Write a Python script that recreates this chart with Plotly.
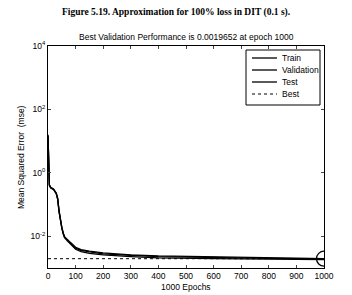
import plotly.graph_objects as go

epochs = [0, 2, 5, 10, 20, 30, 35, 40, 45, 50, 55, 60, 70, 80, 90, 100, 120, 150,
          200, 250, 300, 400, 500, 600, 700, 800, 900, 950, 1000]
train = [15.0, 2.0, 0.40, 0.33, 0.30, 0.22, 0.15, 0.060, 0.030, 0.018, 0.012, 0.0090,
         0.0072, 0.0058, 0.0047, 0.0039, 0.0033, 0.0029, 0.0026, 0.0024, 0.0023,
         0.0021, 0.0020, 0.00197, 0.00193, 0.00190, 0.00187, 0.00185, 0.00183]
validation = [14.0, 2.2, 0.42, 0.35, 0.31, 0.23, 0.16, 0.064, 0.032, 0.019, 0.013, 0.0097,
              0.0079, 0.0065, 0.0053, 0.0045, 0.0038, 0.0034, 0.0030, 0.0028, 0.0026,
              0.0024, 0.0023, 0.00222, 0.00215, 0.00209, 0.00203, 0.00200, 0.0019652]
test = [16.0, 2.1, 0.41, 0.34, 0.30, 0.22, 0.15, 0.062, 0.031, 0.019, 0.0125, 0.0094,
        0.0076, 0.0062, 0.0050, 0.0042, 0.0036, 0.0032, 0.0028, 0.0026, 0.0025,
        0.0023, 0.0022, 0.00212, 0.00206, 0.00201, 0.00197, 0.00194, 0.00191]
best_epoch = 1000
best_perf = 0.0019652
series_names = ["Train", "Validation", "Test", "Best"]

x_ticks = list(range(0, 1001, 100))
y_tickvals = [1e-2, 1e0, 1e2, 1e4]
y_ticktext = ["10<sup>-2</sup>", "10<sup>0</sup>", "10<sup>2</sup>", "10<sup>4</sup>"]

FONT = "Liberation Sans, Arial, sans-serif"
W, H = 352, 295
L, R, T, B = 48, 28, 46, 27
pw, ph = W - L - R, H - T - B


def px(xpix):
    return (xpix - L) / pw


def py(ypix):
    return (H - B - ypix) / ph


fig = go.Figure()
for name, ys in zip(series_names[:3], [train, validation, test]):
    fig.add_trace(go.Scatter(x=epochs, y=ys, mode="lines", name=name, showlegend=False,
                             line=dict(color="black", width=1.3)))
fig.add_trace(go.Scatter(x=[epochs[0], epochs[-1]], y=[best_perf, best_perf], mode="lines",
                         name=series_names[3], showlegend=False,
                         line=dict(color="black", width=1, dash="dot")))
fig.add_trace(go.Scatter(x=[best_epoch], y=[best_perf], mode="markers", showlegend=False,
                         marker=dict(symbol="circle-open", size=15, color="black",
                                     line=dict(width=1.3, color="black"))))

# manual legend (MATLAB style, compact)
shapes = [dict(type="rect", xref="paper", yref="paper", x0=px(246), x1=px(320),
               y0=py(105), y1=py(50), line=dict(color="black", width=1),
               fillcolor="white", layer="above")]
annotations = []
row_y = [58, 70, 82, 94]
for i, name in enumerate(series_names):
    shapes.append(dict(type="line", xref="paper", yref="paper", x0=px(252), x1=px(277),
                       y0=py(row_y[i]), y1=py(row_y[i]), layer="above",
                       line=dict(color="black", width=1.3 if i < 3 else 1,
                                 dash="solid" if i < 3 else "dot")))
    annotations.append(dict(text=name, xref="paper", yref="paper", x=px(280), y=py(row_y[i]),
                            xanchor="left", yanchor="middle", showarrow=False,
                            font=dict(size=8.5)))

annotations += [
    dict(text="<b>Figure 5.19. Approximation for 100% loss in DIT (0.1 s).</b>",
         xref="paper", yref="paper", x=px(176), y=py(13),
         xanchor="center", yanchor="middle", showarrow=False,
         font=dict(family="Liberation Serif, Times New Roman, serif", size=9.5)),
    dict(text="Best Validation Performance is 0.0019652 at epoch 1000",
         xref="paper", yref="paper", x=px(186), y=py(37),
         xanchor="center", yanchor="middle", showarrow=False, font=dict(size=8.5)),
    dict(text="Mean Squared Error  (mse)", textangle=-90,
         xref="paper", yref="paper", x=px(21), y=0.5,
         xanchor="center", yanchor="middle", showarrow=False, font=dict(size=8.5)),
    dict(text="1000 Epochs",
         xref="paper", yref="paper", x=0.5, y=py(287),
         xanchor="center", yanchor="middle", showarrow=False, font=dict(size=8.5)),
]

fig.update_layout(
    width=W, height=H,
    margin=dict(l=L, r=R, t=T, b=B),
    paper_bgcolor="white", plot_bgcolor="white",
    font=dict(family=FONT, size=8.5, color="black"),
    showlegend=False,
    xaxis=dict(range=[0, 1000], tickvals=x_ticks, ticks="inside", ticklen=3,
               showline=True, linecolor="black", linewidth=1, mirror="ticks",
               showgrid=False, zeroline=False, tickfont=dict(size=8.5)),
    yaxis=dict(type="log", range=[-3, 4], tickvals=y_tickvals, ticktext=y_ticktext,
               ticks="inside", ticklen=3, showline=True, linecolor="black", linewidth=1,
               mirror="ticks", showgrid=False, zeroline=False, tickfont=dict(size=8.5)),
    shapes=shapes,
    annotations=annotations,
)

fig.write_html("out.html")
